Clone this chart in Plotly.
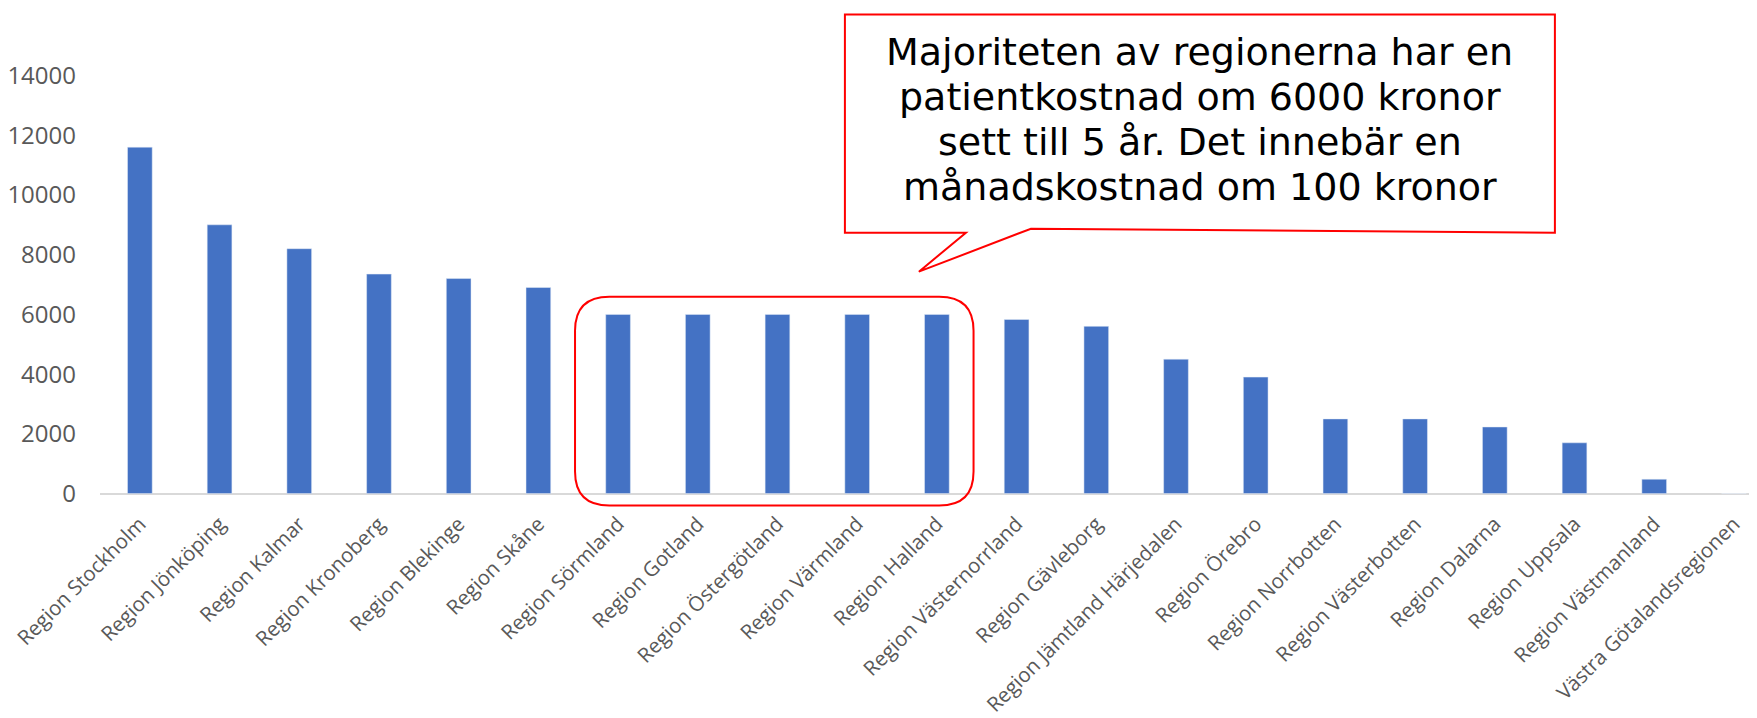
import plotly.graph_objects as go

# regioner och kostnad (kr)
regioner = ['Region Stockholm', 'Region Jönköping', 'Region Kalmar', 'Region Kronoberg',
            'Region Blekinge', 'Region Skåne', 'Region Sörmland', 'Region Gotland',
            'Region Östergötland', 'Region Värmland', 'Region Halland', 'Region Västernorrland',
            'Region Gävleborg', 'Region Jämtland Härjedalen', 'Region Örebro', 'Region Norrbotten',
            'Region Västerbotten', 'Region Dalarna', 'Region Uppsala', 'Region Västmanland',
            'Västra Götalandsregionen']
kostnad = [11600, 9000, 8200, 7350, 7200, 6900, 6000, 6000, 6000, 6000, 6000,
           5830, 5600, 4500, 3900, 2500, 2500, 2230, 1700, 480, 0]
ytick_vals = [0, 2000, 4000, 6000, 8000, 10000, 12000, 14000]

rader = ['Majoriteten av regionerna har en', 'patientkostnad om 6000 kronor',
         'sett till 5 år. Det innebär en', 'månadskostnad om 100 kronor']
rad_y = [14793, 13286, 11780, 10274]

grey = '#595959'

fig = go.Figure(go.Bar(x=regioner, y=kostnad, marker=dict(color='#4472C4'), width=0.31))

# rundad ram runt regionerna med 6000 kr
x0, x1, y0, y1 = 5.46, 10.46, -400, 6590
rx, ry = 0.43, 1140
ram = (f'M {x0+rx},{y0} L {x1-rx},{y0} Q {x1},{y0} {x1},{y0+ry} '
       f'L {x1},{y1-ry} Q {x1},{y1} {x1-rx},{y1} L {x0+rx},{y1} '
       f'Q {x0},{y1} {x0},{y1-ry} L {x0},{y0+ry} Q {x0},{y0} {x0+rx},{y0} Z')

# pratbubbla
bubbla = ('M 8.846,16044 L 17.754,16044 L 17.754,8735 L 11.18,8869 '
          'L 9.774,7430 L 10.364,8735 L 8.846,8735 Z')

fig.update_layout(
    width=1757, height=718,
    margin=dict(l=92, r=0, t=0, b=216),
    plot_bgcolor='white', paper_bgcolor='white',
    showlegend=False,
    font=dict(family='Open Sans', size=21, color=grey),
    shapes=[
        dict(type='path', path=ram, xref='x', yref='y',
             line=dict(color='#FF0000', width=2), fillcolor='rgba(0,0,0,0)'),
        dict(type='path', path=bubbla, xref='x', yref='y',
             line=dict(color='#FF0000', width=2), fillcolor='white'),
    ],
    annotations=[dict(x=13.3, y=yy, xref='x', yref='y', text=t, showarrow=False,
                      yanchor='middle',
                      font=dict(family='DejaVu Sans', size=38, color='black'))
                 for t, yy in zip(rader, rad_y)],
)
fig.update_xaxes(tickangle=-45, range=[-0.5, 20.39], showgrid=False, showline=False,
                 automargin=False, ticklabelstandoff=-3,
                 tickfont=dict(family='Open Sans', size=20.5, color=grey))
fig.update_yaxes(range=[-550, 16260], tickvals=ytick_vals, tickformat='d', showgrid=False,
                 zeroline=True, zerolinecolor='#D9D9D9', zerolinewidth=2,
                 automargin=False, ticklabelstandoff=23,
                 tickfont=dict(family='Open Sans', size=24, color=grey))

fig.write_html('out.html')
